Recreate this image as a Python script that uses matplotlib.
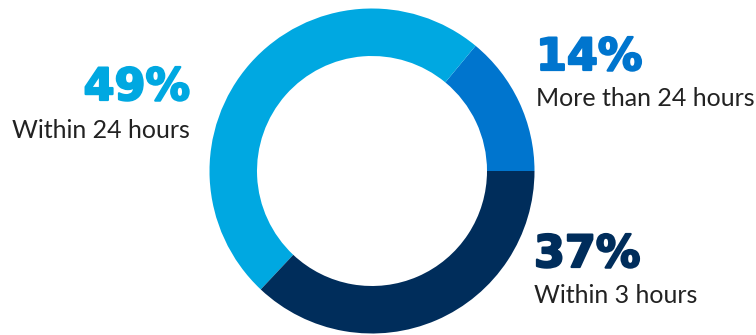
import matplotlib.pyplot as plt
import matplotlib.patheffects as pe

# response time shares
shares = [14, 49, 37]
pct_labels = ['14%', '49%', '37%']
descriptions = ['More than 24 hours', 'Within 24 hours', 'Within 3 hours']
colors = ['#0075CE', '#00A8E1', '#002D5B']

W, H = 756, 335
fig = plt.figure(figsize=(W / 100, H / 100), dpi=100)
ax = fig.add_axes([0, 0, 1, 1])

cx, cy, r_out, r_in = 372, H - 171, 162.5, 115
ax.pie(shares, colors=colors, startangle=0, counterclock=True,
       center=(cx, cy), radius=r_out, frame=True,
       wedgeprops=dict(width=r_out - r_in, linewidth=0))
ax.set_xlim(0, W)
ax.set_ylim(0, H)
ax.set_aspect('equal')
ax.axis('off')

big = dict(family='DejaVu Sans', fontweight='bold', fontsize=32)
small = dict(family=['Lato', 'DejaVu Sans'], fontsize=18, color='#222222')

# (x, pct baseline, desc baseline, alignment) in pixel coords, y measured down
spots = [(536, 70, 106, 'left'), (190, 100, 138, 'right'), (534, 267, 303, 'left')]
for (x, yb, yd, ha), p, d, c in zip(spots, pct_labels, descriptions, colors):
    ax.text(x, H - yb, p, ha=ha, va='baseline', color=c,
            path_effects=[pe.withStroke(linewidth=1.6, foreground=c)], **big)
    ax.text(x, H - yd, d, ha=ha, va='baseline', **small)

fig.savefig('out.png', dpi=100)
